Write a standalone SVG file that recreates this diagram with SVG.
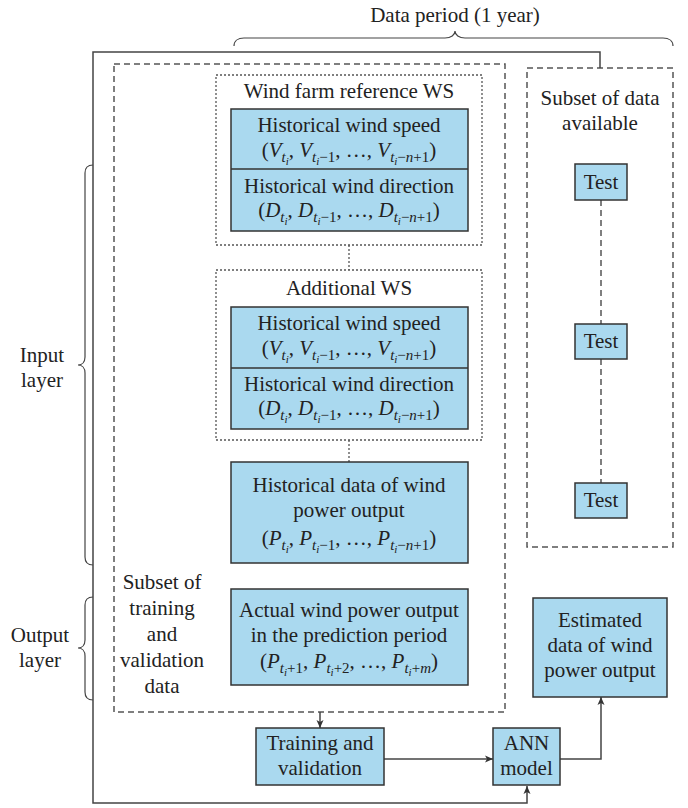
<svg xmlns="http://www.w3.org/2000/svg" width="688" height="808" viewBox="0 0 688 808">
<style>
text{font-family:"Liberation Serif","Times New Roman",serif;font-size:21px;fill:#222;text-anchor:middle}
.s{font-size:15px}
.ss{font-size:11px}
.i{font-style:italic}
.box{fill:#aad9ef;stroke:#333;stroke-width:1.5}
.dash{fill:none;stroke:#555;stroke-width:1.5;stroke-dasharray:6 4}
.dot{fill:none;stroke:#555;stroke-width:1.3;stroke-dasharray:2 2}
.ln{fill:none;stroke:#444;stroke-width:1.5}
.brace{fill:none;stroke:#444;stroke-width:1.2}
</style>
<defs>
<marker id="ah" markerWidth="8" markerHeight="8" refX="8" refY="4" orient="auto" markerUnits="userSpaceOnUse">
<path d="M0,0.5 L8,4 L0,7.5 L2,4 Z" fill="#333"/>
</marker>
</defs>

<g id="labels">
<text x="455" y="22">Data period (1 year)</text>
<path class="brace" d="M234,46 C234,41 238,38 244,38 L445,38 C451,38 455,35 455,31 C455,35 459,38 465,38 L663,38 C669,38 673,41 673,46"/>
<path class="brace" d="M93,165 C88,165 85,168 85,173 L85,357 C85,362 82,365 78,365 C82,365 85,368 85,373 L85,557 C85,562 88,565 93,565"/>
<text x="42" y="362">Input</text>
<text x="42" y="387">layer</text>
<path class="brace" d="M93,597 C88,597 85,600 85,605 L85,640 C85,645 82,648 78,648 C82,648 85,651 85,656 L85,692 C85,697 88,700 93,700"/>
<text x="40" y="642">Output</text>
<text x="40" y="667">layer</text>
</g>

<g id="training-subset">
<rect class="dash" x="114" y="64" width="391" height="648"/>
<text x="162" y="589">Subset of</text>
<text x="162" y="615">training</text>
<text x="162" y="641">and</text>
<text x="162" y="667">validation</text>
<text x="162" y="693">data</text>
</g>

<g id="test-subset">
<rect class="dash" x="527" y="68" width="146" height="479"/>
<text x="600" y="105">Subset of data</text>
<text x="600" y="130">available</text>
</g>

<g id="connectors">
<path class="ln" d="M600,68 L600,52 L93,52 L93,803 L527,803 L527,786" marker-end="url(#ah)"/>
<path class="dot" d="M349,245 L349,270"/>
<path class="dot" d="M349,440 L349,462"/>
<path class="dash" d="M601,200 L601,324"/>
<path class="dash" d="M601,359 L601,483"/>
<path class="ln" d="M320,712 L320,728" marker-end="url(#ah)"/>
<path class="ln" d="M384,759 L493,759" marker-end="url(#ah)"/>
<path class="ln" d="M560,759 L601,759 L601,697" marker-end="url(#ah)"/>
</g>

<g id="ref-ws">
<rect class="dot" x="216" y="75" width="266" height="170"/>
<text x="349" y="98">Wind farm reference WS</text>
<rect class="box" x="231" y="109" width="237" height="122"/>
<line x1="231" y1="169" x2="468" y2="169" stroke="#333" stroke-width="1.5"/>
<text x="349" y="132">Historical wind speed</text>
<text x="349" y="157">(<tspan class="i">V</tspan><tspan class="s i" dy="5">t</tspan><tspan class="ss i" dy="3">i</tspan><tspan dy="-8">, </tspan><tspan class="i">V</tspan><tspan class="s i" dy="5">t</tspan><tspan class="ss i" dy="3">i</tspan><tspan class="s" dy="-3">−1</tspan><tspan dy="-5">, …, </tspan><tspan class="i">V</tspan><tspan class="s i" dy="5">t</tspan><tspan class="ss i" dy="3">i</tspan><tspan class="s" dy="-3">−</tspan><tspan class="s i">n</tspan><tspan class="s">+1</tspan><tspan dy="-5">)</tspan></text>
<text x="349" y="193">Historical wind direction</text>
<text x="349" y="217">(<tspan class="i">D</tspan><tspan class="s i" dy="5">t</tspan><tspan class="ss i" dy="3">i</tspan><tspan dy="-8">, </tspan><tspan class="i">D</tspan><tspan class="s i" dy="5">t</tspan><tspan class="ss i" dy="3">i</tspan><tspan class="s" dy="-3">−1</tspan><tspan dy="-5">, …, </tspan><tspan class="i">D</tspan><tspan class="s i" dy="5">t</tspan><tspan class="ss i" dy="3">i</tspan><tspan class="s" dy="-3">−</tspan><tspan class="s i">n</tspan><tspan class="s">+1</tspan><tspan dy="-5">)</tspan></text>
</g>

<g id="add-ws">
<rect class="dot" x="216" y="270" width="266" height="170"/>
<text x="349" y="295">Additional WS</text>
<rect class="box" x="231" y="307" width="237" height="122"/>
<line x1="231" y1="368" x2="468" y2="368" stroke="#333" stroke-width="1.5"/>
<text x="349" y="330">Historical wind speed</text>
<text x="349" y="355">(<tspan class="i">V</tspan><tspan class="s i" dy="5">t</tspan><tspan class="ss i" dy="3">i</tspan><tspan dy="-8">, </tspan><tspan class="i">V</tspan><tspan class="s i" dy="5">t</tspan><tspan class="ss i" dy="3">i</tspan><tspan class="s" dy="-3">−1</tspan><tspan dy="-5">, …, </tspan><tspan class="i">V</tspan><tspan class="s i" dy="5">t</tspan><tspan class="ss i" dy="3">i</tspan><tspan class="s" dy="-3">−</tspan><tspan class="s i">n</tspan><tspan class="s">+1</tspan><tspan dy="-5">)</tspan></text>
<text x="349" y="391">Historical wind direction</text>
<text x="349" y="415">(<tspan class="i">D</tspan><tspan class="s i" dy="5">t</tspan><tspan class="ss i" dy="3">i</tspan><tspan dy="-8">, </tspan><tspan class="i">D</tspan><tspan class="s i" dy="5">t</tspan><tspan class="ss i" dy="3">i</tspan><tspan class="s" dy="-3">−1</tspan><tspan dy="-5">, …, </tspan><tspan class="i">D</tspan><tspan class="s i" dy="5">t</tspan><tspan class="ss i" dy="3">i</tspan><tspan class="s" dy="-3">−</tspan><tspan class="s i">n</tspan><tspan class="s">+1</tspan><tspan dy="-5">)</tspan></text>
</g>

<g id="hist-power">
<rect class="box" x="231" y="462" width="237" height="101"/>
<text x="349" y="492">Historical data of wind</text>
<text x="349" y="517">power output</text>
<text x="349" y="545">(<tspan class="i">P</tspan><tspan class="s i" dy="5">t</tspan><tspan class="ss i" dy="3">i</tspan><tspan dy="-8">, </tspan><tspan class="i">P</tspan><tspan class="s i" dy="5">t</tspan><tspan class="ss i" dy="3">i</tspan><tspan class="s" dy="-3">−1</tspan><tspan dy="-5">, …, </tspan><tspan class="i">P</tspan><tspan class="s i" dy="5">t</tspan><tspan class="ss i" dy="3">i</tspan><tspan class="s" dy="-3">−</tspan><tspan class="s i">n</tspan><tspan class="s">+1</tspan><tspan dy="-5">)</tspan></text>
</g>

<g id="actual-power">
<rect class="box" x="231" y="589" width="237" height="96"/>
<text x="349" y="617">Actual wind power output</text>
<text x="349" y="642">in the prediction period</text>
<text x="349" y="668">(<tspan class="i">P</tspan><tspan class="s i" dy="5">t</tspan><tspan class="ss i" dy="3">i</tspan><tspan class="s" dy="-3">+1</tspan><tspan dy="-5">, </tspan><tspan class="i">P</tspan><tspan class="s i" dy="5">t</tspan><tspan class="ss i" dy="3">i</tspan><tspan class="s" dy="-3">+2</tspan><tspan dy="-5">, …, </tspan><tspan class="i">P</tspan><tspan class="s i" dy="5">t</tspan><tspan class="ss i" dy="3">i</tspan><tspan class="s" dy="-3">+</tspan><tspan class="s i">m</tspan><tspan dy="-5">)</tspan></text>
</g>

<g id="test1"><rect class="box" x="575" y="164" width="52" height="36"/><text x="601" y="189">Test</text></g>
<g id="test2"><rect class="box" x="575" y="324" width="52" height="35"/><text x="601" y="348">Test</text></g>
<g id="test3"><rect class="box" x="575" y="483" width="52" height="35"/><text x="601" y="507">Test</text></g>

<g id="training"><rect class="box" x="256" y="728" width="128" height="57"/><text x="320" y="750">Training and</text><text x="320" y="775">validation</text></g>
<g id="ann"><rect class="box" x="493" y="728" width="67" height="57"/><text x="526.5" y="750">ANN</text><text x="526.5" y="775">model</text></g>
<g id="estimated"><rect class="box" x="533" y="598" width="134" height="99"/><text x="600" y="627">Estimated</text><text x="600" y="652">data of wind</text><text x="600" y="677">power output</text></g>
</svg>
